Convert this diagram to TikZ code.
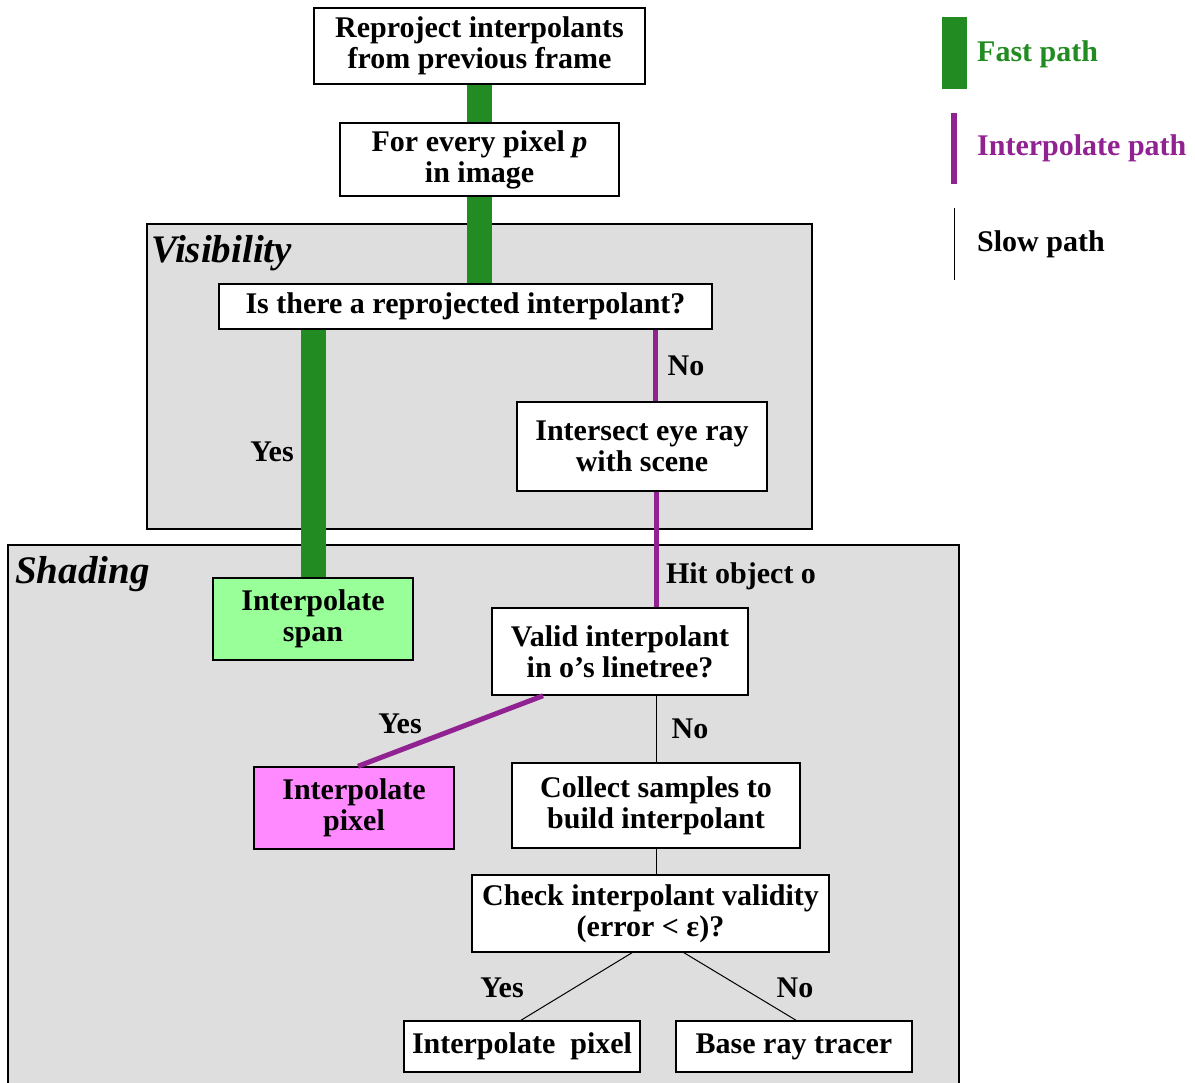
\documentclass[tikz,border=0pt]{standalone}
\usepackage{fontspec}
\setmainfont{Liberation Serif}
\usetikzlibrary{calc}
\definecolor{fastgreen}{RGB}{34,139,34}
\definecolor{interp}{RGB}{145,34,145}
\definecolor{panelgray}{RGB}{222,222,222}
\definecolor{spanfill}{RGB}{153,255,153}
\definecolor{pixfill}{RGB}{255,138,255}
\tikzset{
  box/.style={draw=black, line width=1.5pt, fill=white, rectangle, align=center, inner sep=0pt,
    font=\fontsize{30}{31}\selectfont\bfseries},
  panel/.style={draw=black, line width=1.5pt, fill=panelgray, rectangle, inner sep=0pt},
  paneltitle/.style={anchor=base west, inner sep=0pt, font=\fontsize{39}{40}\selectfont\bfseries\itshape},
  lbl/.style={inner sep=0pt, font=\fontsize{30}{31}\selectfont\bfseries},
  fastpath/.style={draw=fastgreen, line width=25pt},
  interppath/.style={draw=interp, line width=5pt},
  slowpath/.style={draw=black, line width=1pt},
}
\begin{document}
\begin{tikzpicture}[x=1pt,y=-1pt]
\useasboundingbox (0,0) rectangle (1195,1083);
% panels
\node[panel, minimum width=665pt, minimum height=305pt] (vis) at (479.5,376.5) {};
\node[panel, minimum width=951pt, minimum height=545pt] (shad) at (483.5,817.5) {};
\node[paneltitle] (vist) at (151,263) {Visibility};
\node[paneltitle] (shadt) at (15,583) {Shading};
% boxes
\node[box, minimum width=331pt, minimum height=76pt] (b1) at (479.5,46) {Reproject interpolants\\from previous frame};
\node[box, minimum width=279pt, minimum height=73pt] (b2) at (479.5,159.5) {For every pixel \textit{p}\\in image};
\node[box, minimum width=493pt, minimum height=45pt] (b3) at (465.5,306.5) {Is there a reprojected interpolant?};
\node[box, minimum width=250pt, minimum height=89pt] (b4) at (642,446.5) {Intersect eye ray\\with scene};
\node[box, fill=spanfill, minimum width=200pt, minimum height=82pt] (span) at (313,619) {Interpolate\\span};
\node[box, minimum width=256pt, minimum height=87pt] (valid) at (620,651.5) {Valid interpolant\\in o’s linetree?};
\node[box, fill=pixfill, minimum width=200pt, minimum height=82pt] (ipix) at (354,808) {Interpolate\\pixel};
\node[box, minimum width=288pt, minimum height=85pt] (collect) at (656,805.5) {Collect samples to\\build interpolant};
\node[box, minimum width=357pt, minimum height=77pt] (check) at (650.5,913.5) {Check interpolant validity\\(error < ε)?};
\node[box, minimum width=236pt, minimum height=51pt] (ipx2) at (522,1046.5) {Interpolate\ \ pixel};
\node[box, minimum width=236pt, minimum height=51pt] (brt) at (794,1046.5) {Base ray tracer};
% connectors
\draw[fastpath] (b1.south) -- (b2.north);
\draw[fastpath] (b2.south) -- (b2.south |- b3.north);
\draw[fastpath] (span.north |- b3.south) -- (span.north);
\draw[interppath] ([xshift=13pt]b4.north |- b3.south) -- ([xshift=13pt]b4.north);
\draw[interppath] ([xshift=14pt]b4.south) -- ([xshift=14pt]b4.south |- valid.north);
\draw[interppath] ([xshift=-77pt]valid.south) -- ([xshift=4pt]ipix.north);
\draw[slowpath] ([xshift=36pt]valid.south) -- (collect.north);
\draw[slowpath] (collect.south) -- (collect.south |- check.north);
\draw[slowpath] ([xshift=-18.5pt]check.south) -- ([xshift=-1pt]ipx2.north);
\draw[slowpath] ([xshift=33.5pt]check.south) -- ([xshift=2pt]brt.north);
% labels
\node[lbl] (yes1) at (272,452) {Yes};
\node[lbl] (no1) at (686,366) {No};
\node[lbl] (hit) at (741,576) {Hit object o};
\node[lbl] (yes2) at (400,724) {Yes};
\node[lbl] (no2) at (690,729) {No};
\node[lbl] (yes3) at (502,988) {Yes};
\node[lbl] (no3) at (795,988) {No};
% legend
\coordinate (lg1a) at (954.5,17); \coordinate (lg1b) at (954.5,89);
\draw[fastpath] (lg1a) -- (lg1b);
\node[lbl, anchor=west, text=fastgreen] (lt1) at (977,54) {Fast path};
\coordinate (lg2a) at (954,113); \coordinate (lg2b) at (954,184);
\draw[interppath, line width=6pt] (lg2a) -- (lg2b);
\node[lbl, anchor=west, text=interp] (lt2) at (977,148) {Interpolate path};
\coordinate (lg3a) at (954,208); \coordinate (lg3b) at (954,280);
\draw[slowpath] (lg3a) -- (lg3b);
\node[lbl, anchor=west] (lt3) at (977,244) {Slow path};
\end{tikzpicture}
\end{document}
